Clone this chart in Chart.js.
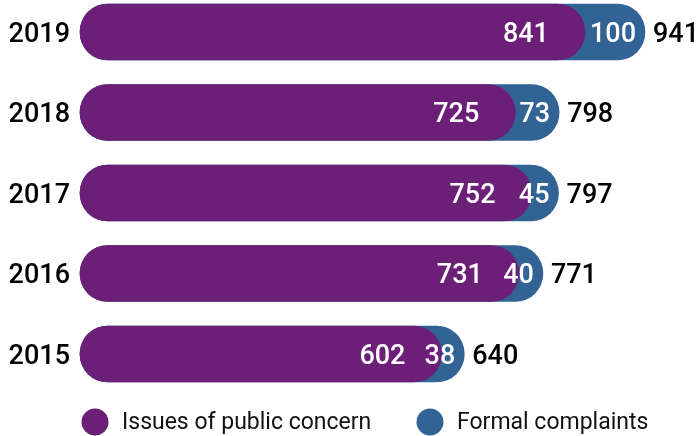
<!DOCTYPE html>
<html>
<head>
<meta charset="utf-8">
<script src="https://cdn.jsdelivr.net/npm/chart.js@4"></script>
<style>
  html, body { margin: 0; padding: 0; background: #fff; }
  #wrap { width: 700px; height: 436px; }
</style>
</head>
<body>
<div id="wrap"><canvas id="grafico"></canvas></div>
<script>
// ====== DATA ======
const anos = ['2019', '2018', '2017', '2016', '2015'];
const issues = [841, 725, 752, 731, 602];
const complaints = [100, 73, 45, 40, 38];
const totais = issues.map((v, i) => v + complaints[i]);
const legendas = ['Issues of public concern', 'Formal complaints'];

const ROXO = '#6c1f77';
const AZUL = '#326395';
const FONTE = 'Roboto, sans-serif';

// ====== LABELS PLUGIN ======
const rotulos = {
  id: 'rotulos',
  afterDatasetsDraw(chart) {
    const { ctx } = chart;
    const x = chart.scales.x;
    const y = chart.scales.y;
    ctx.save();
    ctx.font = `500 27px ${FONTE}`;
    ctx.textBaseline = 'middle';
    anos.forEach((ano, i) => {
      const cy = y.getPixelForValue(i) + 3;
      const fimRoxo = x.getPixelForValue(issues[i]);
      const fimTotal = x.getPixelForValue(totais[i]);
      ctx.fillStyle = '#fff';
      ctx.textAlign = 'right';
      ctx.fillText(issues[i], fimRoxo - 36, cy);
      ctx.fillText(complaints[i], fimTotal - 9, cy);
      ctx.fillStyle = '#000';
      ctx.textAlign = 'left';
      ctx.fillText(totais[i], fimTotal + 8, cy);
    });

    // legend
    ctx.font = `400 23px ${FONTE}`;
    const itens = [
      { texto: legendas[0], cor: ROXO, cx: 95 },
      { texto: legendas[1], cor: AZUL, cx: 430 },
    ];
    itens.forEach(it => {
      ctx.fillStyle = it.cor;
      ctx.beginPath();
      ctx.arc(it.cx, 422, 13.5, 0, Math.PI * 2);
      ctx.fill();
      ctx.fillStyle = '#111';
      ctx.fillText(it.texto, it.cx + 27, 423);
    });
    ctx.restore();
  }
};

// ====== CHART ======
new Chart(document.getElementById('grafico'), {
  type: 'bar',
  data: {
    labels: anos,
    datasets: [
      {
        label: legendas[0],
        data: issues,
        backgroundColor: ROXO,
        borderRadius: 28,
        borderSkipped: false,
        barThickness: 56,
        grouped: false,
        order: 1,
        clip: false,
      },
      {
        label: legendas[1],
        data: totais,
        backgroundColor: AZUL,
        borderRadius: 28,
        borderSkipped: false,
        barThickness: 56,
        grouped: false,
        order: 2,
        clip: false,
      },
    ],
  },
  options: {
    indexAxis: 'y',
    responsive: true,
    maintainAspectRatio: false,
    animation: false,
    layout: { padding: { top: 32, right: 55, bottom: 82, left: 0 } },
    plugins: {
      legend: { display: false },
      tooltip: { enabled: false },
    },
    scales: {
      x: {
        min: 0,
        max: Math.max(...totais),
        display: false,
      },
      y: {
        offset: false,
        grid: { display: false },
        border: { display: false },
        afterFit(scale) { scale.width = 80; },
        ticks: {
          color: '#000',
          padding: 2,
          labelOffset: 3,
          font: { size: 27, weight: '500', family: FONTE },
        },
      },
    },
  },
  plugins: [rotulos],
});
</script>
</body>
</html>
